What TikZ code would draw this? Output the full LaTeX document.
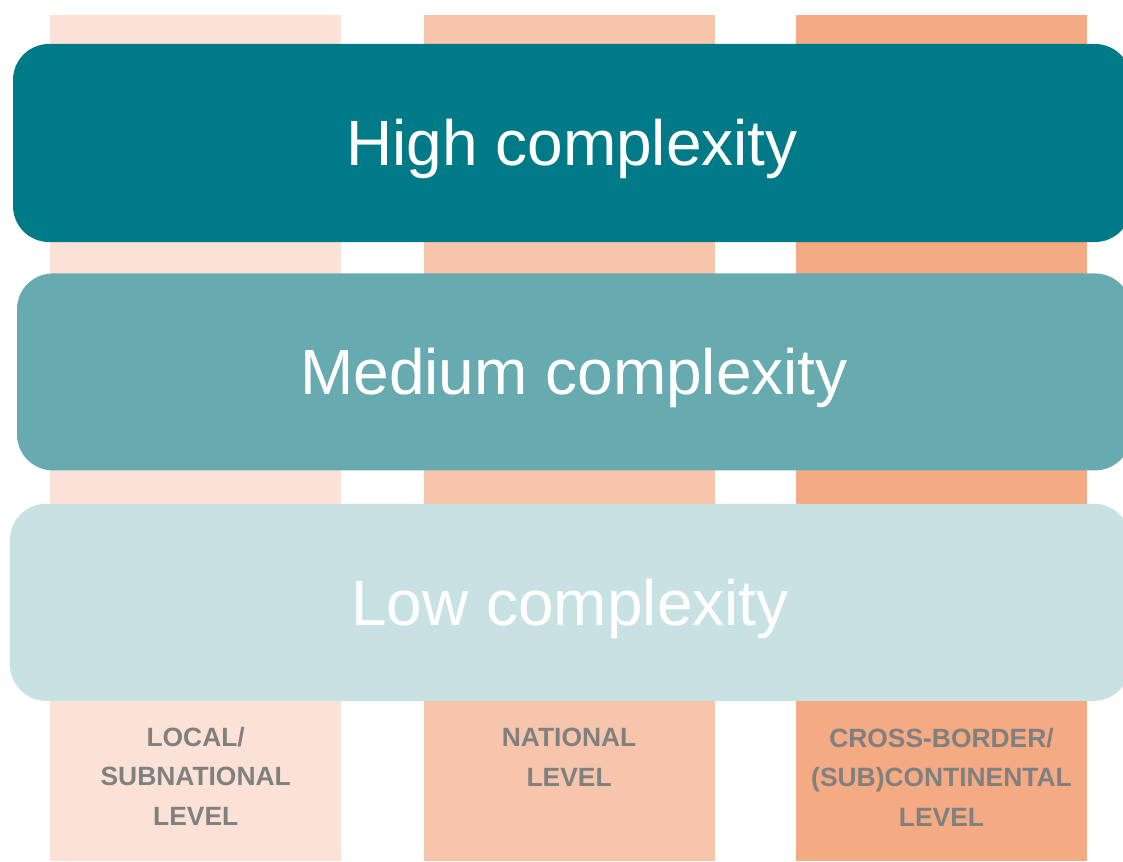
\documentclass[tikz,border=0pt]{standalone}
\usepackage{fontspec}
\setmainfont{Liberation Sans}
\usepackage{tikz}
\usetikzlibrary{positioning}

\definecolor{highteal}{HTML}{007A87}
\definecolor{midteal}{HTML}{67AAAF}
\definecolor{lowteal}{HTML}{C8E1E3}
\definecolor{localpeach}{HTML}{FCE2D6}
\definecolor{nationalpeach}{HTML}{F7C5AC}
\definecolor{borderpeach}{HTML}{F4AA82}
\definecolor{labelgrey}{HTML}{808080}

\begin{document}
\begin{tikzpicture}[
    x=1pt, y=-1pt,
    node distance=82pt,
    column/.style={rectangle, inner sep=0pt, minimum width=291pt, minimum height=846pt},
    bar/.style={rectangle, rounded corners=36pt, inner sep=0pt, minimum height=197pt, text=white,
        font=\fontsize{64}{76}\selectfont, text height=46pt, text depth=0pt},
    level/.style={inner sep=0pt, align=center, text=labelgrey, font=\bfseries\fontsize{26.4}{39.5}\selectfont}
]
\useasboundingbox (0,0) rectangle (1123,861);

% columns
\node[column, fill=localpeach, anchor=north west] (local) at (50,15) {};
\node[column, fill=nationalpeach, right=82pt of local] (national) {};
\node[column, fill=borderpeach, right=81pt of national] (border) {};

% complexity bars
\node[bar, fill=highteal, minimum width=1118pt, minimum height=198pt] (high) at (572,143) {High complexity};
\node[bar, fill=midteal, minimum width=1114pt, below=31pt of high, xshift=2pt] (medium) {Medium complexity};
\node[bar, fill=lowteal, minimum width=1120pt, below=33pt of medium, xshift=-4pt] (low) {Low complexity};

% level labels
\node[level, anchor=north] (locallbl) at (local.north |- 0,727) {LOCAL/\\SUBNATIONAL\\LEVEL};
\node[level, anchor=north] (nationallbl) at (national.north |- 0,728) {NATIONAL\\LEVEL};
\node[level, anchor=north] (borderlbl) at (border.north |- 0,728) {CROSS-BORDER/\\(SUB)CONTINENTAL\\LEVEL};

\end{tikzpicture}
\end{document}
